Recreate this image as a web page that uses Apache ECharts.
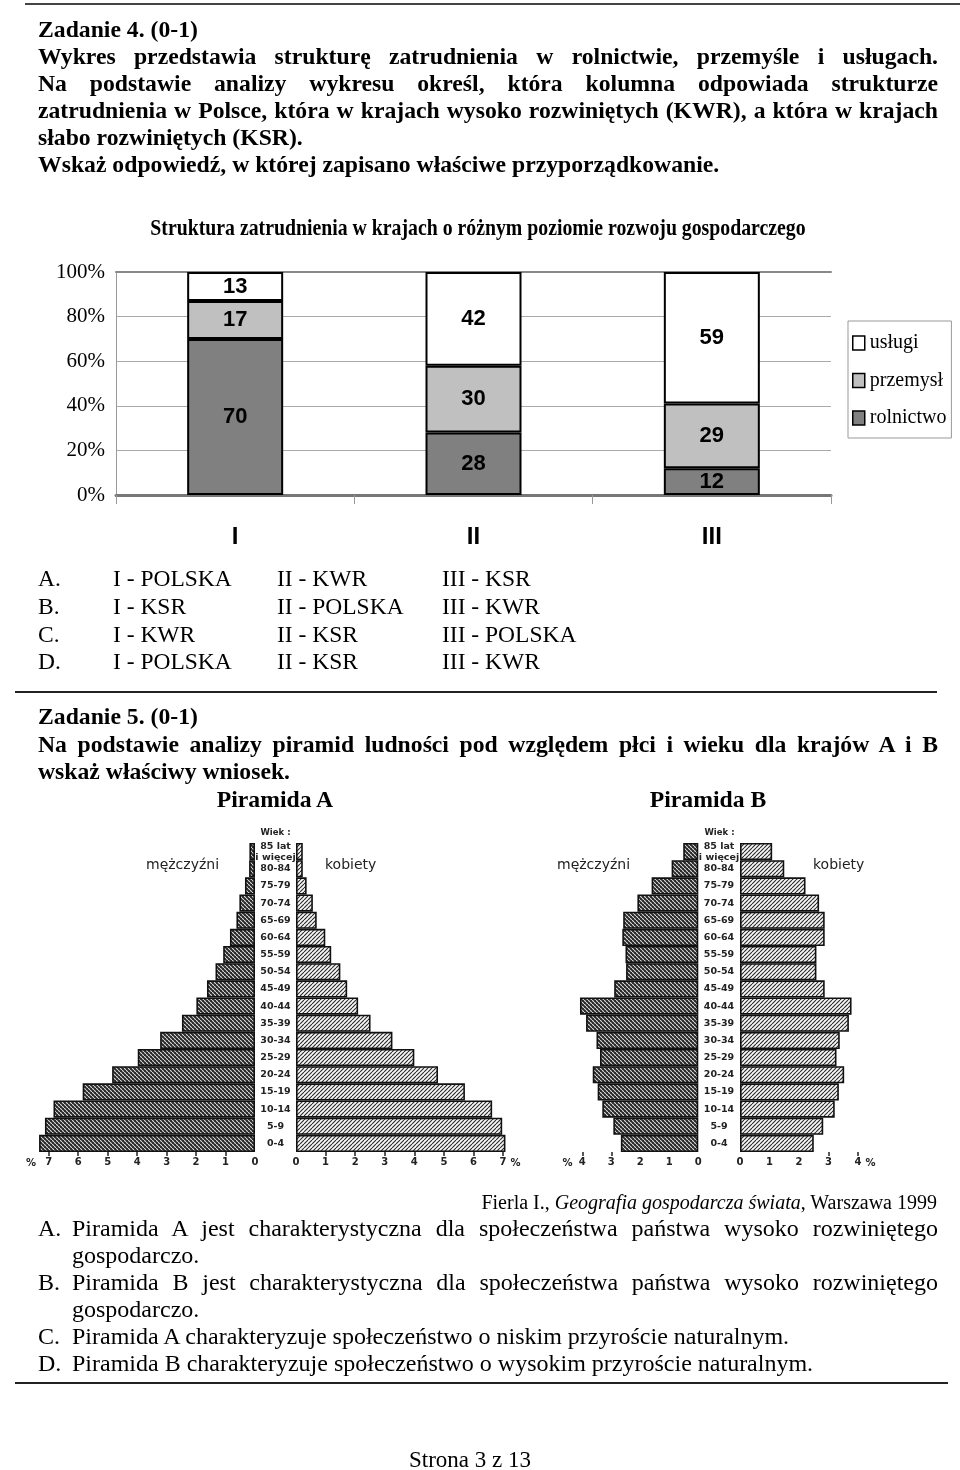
<!DOCTYPE html>
<html><head><meta charset="utf-8">
<script src="https://cdn.jsdelivr.net/npm/echarts@6/dist/echarts.min.js"></script>
<style>
html,body{margin:0;padding:0;background:#fff;}
#page{position:relative;width:960px;height:1470px;overflow:hidden;background:#fff;}
#chart{position:absolute;left:0;top:0;width:960px;height:1470px;}
.t{position:absolute;font-family:'Liberation Serif','Times New Roman',serif;font-size:23.5px;line-height:27px;white-space:nowrap;color:#000;z-index:2;}
.b{font-weight:bold;font-size:23.7px;}
.r{font-size:24px;}
.j{text-align:justify;text-align-last:justify;white-space:normal;}
.rule{position:absolute;height:2px;background:#222;z-index:2;}
</style></head>
<body><div id="page">
<div id="chart"></div>
<div class="rule" style="left:25px;top:3px;width:935px;background:#444;"></div>
<div class="t b" style="left:38px;top:16px;">Zadanie 4. (0-1)</div>
<div class="t b j" style="left:38px;top:43px;width:900px;">Wykres przedstawia strukturę zatrudnienia w rolnictwie, przemyśle i usługach.</div>
<div class="t b j" style="left:38px;top:70px;width:900px;">Na podstawie analizy wykresu określ, która kolumna odpowiada strukturze</div>
<div class="t b j" style="left:38px;top:97px;width:900px;">zatrudnienia w Polsce, która w krajach wysoko rozwiniętych (KWR), a która w krajach</div>
<div class="t b" style="left:38px;top:124px;">słabo rozwiniętych (KSR).</div>
<div class="t b" style="left:38px;top:151px;">Wskaż odpowiedź, w której zapisano właściwe przyporządkowanie.</div>

<div class="t" style="left:38px;top:565px;">A.</div><div class="t" style="left:113px;top:565px;">I - POLSKA</div><div class="t" style="left:277px;top:565px;">II - KWR</div><div class="t" style="left:442px;top:565px;">III - KSR</div>
<div class="t" style="left:38px;top:593px;">B.</div><div class="t" style="left:113px;top:593px;">I - KSR</div><div class="t" style="left:277px;top:593px;">II - POLSKA</div><div class="t" style="left:442px;top:593px;">III - KWR</div>
<div class="t" style="left:38px;top:621px;">C.</div><div class="t" style="left:113px;top:621px;">I - KWR</div><div class="t" style="left:277px;top:621px;">II - KSR</div><div class="t" style="left:442px;top:621px;">III - POLSKA</div>
<div class="t" style="left:38px;top:648px;">D.</div><div class="t" style="left:113px;top:648px;">I - POLSKA</div><div class="t" style="left:277px;top:648px;">II - KSR</div><div class="t" style="left:442px;top:648px;">III - KWR</div>

<div class="rule" style="left:15px;top:691px;width:922px;"></div>
<div class="t b" style="left:38px;top:703px;">Zadanie 5. (0-1)</div>
<div class="t b j" style="left:38px;top:731px;width:900px;">Na podstawie analizy piramid ludności pod względem płci i wieku dla krajów A i B</div>
<div class="t b" style="left:38px;top:758px;">wskaż właściwy wniosek.</div>
<div class="t b" style="left:175px;top:786px;width:200px;text-align:center;">Piramida A</div>
<div class="t b" style="left:608px;top:786px;width:200px;text-align:center;">Piramida B</div>

<div class="t" style="right:23px;top:1189px;font-size:20px;">Fierla I., <i>Geografia gospodarcza świata</i>, Warszawa 1999</div>
<div class="t r" style="left:38px;top:1215px;">A.</div>
<div class="t r j" style="left:72px;top:1215px;width:866px;">Piramida A jest charakterystyczna dla społeczeństwa państwa wysoko rozwiniętego</div>
<div class="t r" style="left:72px;top:1242px;">gospodarczo.</div>
<div class="t r" style="left:38px;top:1269px;">B.</div>
<div class="t r j" style="left:72px;top:1269px;width:866px;">Piramida B jest charakterystyczna dla społeczeństwa państwa wysoko rozwiniętego</div>
<div class="t r" style="left:72px;top:1296px;">gospodarczo.</div>
<div class="t r" style="left:38px;top:1323px;">C.</div>
<div class="t r" style="left:72px;top:1323px;">Piramida A charakteryzuje społeczeństwo o niskim przyroście naturalnym.</div>
<div class="t r" style="left:38px;top:1350px;">D.</div>
<div class="t r" style="left:72px;top:1350px;">Piramida B charakteryzuje społeczeństwo o wysokim przyroście naturalnym.</div>
<div class="rule" style="left:15px;top:1382px;width:933px;"></div>
<div class="t" style="left:370px;top:1446px;width:200px;text-align:center;font-size:23px;">Strona 3 z 13</div>
</div>
<script>
// keep justified lines on one line
document.querySelectorAll('.j').forEach(el => {
  let ls = 0;
  while (el.offsetHeight > 30 && ls > -2) { ls -= 0.1; el.style.letterSpacing = ls.toFixed(2) + 'px'; }
});

// ---- Bar chart data ----
const columns = ['I', 'II', 'III'];
const rolnictwo = [70, 28, 12];
const przemysl = [17, 30, 29];
const uslugi = [13, 42, 59];
const pctTicks = [0, 20, 40, 60, 80, 100];
const chartTitle = 'Struktura zatrudnienia w krajach o różnym poziomie rozwoju gospodarczego';

// ---- Pyramid data (bottom to top) ----
const ageGroups = ['0-4','5-9','10-14','15-19','20-24','25-29','30-34','35-39','40-44','45-49','50-54','55-59','60-64','65-69','70-74','75-79','80-84','85 lat\ni więcej'];
const menA   = [7.33, 7.13, 6.84, 5.85, 4.85, 3.98, 3.22, 2.48, 1.99, 1.63, 1.34, 1.08, 0.85, 0.63, 0.53, 0.34, 0.2, 0.19];
const womenA = [7.08, 6.97, 6.63, 5.71, 4.8, 4.0, 3.26, 2.52, 2.1, 1.73, 1.5, 1.19, 0.99, 0.7, 0.57, 0.36, 0.23, 0.23];
const menB   = [2.67, 2.93, 3.31, 3.47, 3.64, 3.39, 3.51, 3.87, 4.08, 2.9, 2.49, 2.51, 2.62, 2.59, 2.1, 1.61, 0.92, 0.52];
const womenB = [2.5, 2.82, 3.21, 3.35, 3.53, 3.27, 3.38, 3.69, 3.78, 2.87, 2.59, 2.59, 2.87, 2.87, 2.68, 2.22, 1.5, 1.09];
const ticksA = [0, 1, 2, 3, 4, 5, 6, 7];
const ticksB = [0, 1, 2, 3, 4];

function makeMalePattern() {
  const s = 4;
  const c = document.createElement('canvas');
  c.width = s; c.height = s;
  const ctx = c.getContext('2d');
  ctx.fillStyle = '#2a2a2a'; ctx.fillRect(0, 0, s, s);
  ctx.strokeStyle = '#d8d8d8'; ctx.lineWidth = 1.2;
  ctx.beginPath();
  for (let k = -s; k <= s; k += s) { ctx.moveTo(k, 0); ctx.lineTo(k + s, s); }
  ctx.stroke();
  ctx.strokeStyle = '#2a2a2a'; ctx.lineWidth = 0.7;
  ctx.beginPath();
  for (let k = -s; k <= s; k += s) { ctx.moveTo(k, s); ctx.lineTo(k + s, 0); }
  ctx.stroke();
  return { image: c, repeat: 'repeat' };
}
function makeFemalePattern() {
  const s = 4;
  const c = document.createElement('canvas');
  c.width = s; c.height = s;
  const ctx = c.getContext('2d');
  ctx.fillStyle = '#f6f6f6'; ctx.fillRect(0, 0, s, s);
  ctx.strokeStyle = '#2a2a2a'; ctx.lineWidth = 1.1;
  ctx.beginPath();
  for (let k = -s; k <= s; k += s) { ctx.moveTo(k, s); ctx.lineTo(k + s, 0); }
  ctx.stroke();
  return { image: c, repeat: 'repeat' };
}
const malePat = makeMalePattern();
const femalePat = makeFemalePattern();

const pyrFont = 'DejaVu Sans';
const gridTop = 843, gridH = 309;

function valAxis(gridIndex, max, inverse, labels, tickVals, nameGap) {
  return {
    type: 'value', gridIndex, min: 0, max, interval: 1, inverse,
    axisLine: { show: false }, splitLine: { show: false },
    axisTick: { show: true, length: 4, customValues: tickVals, lineStyle: { color: '#222', width: 1.5 } },
    axisLabel: { margin: 5, customValues: labels, fontFamily: pyrFont, fontSize: 10, fontWeight: 'bold', color: '#222' },
    name: '%', nameLocation: 'end', nameGap,
    nameTextStyle: { fontFamily: pyrFont, fontSize: 10, fontWeight: 'bold', color: '#222',
      verticalAlign: 'top', padding: [6, 0, 0, 0] }
  };
}
function catAxis(gridIndex, show, margin) {
  return {
    type: 'category', gridIndex, data: ageGroups, show,
    axisLine: { show: false }, axisTick: { show: false },
    axisLabel: { margin, align: 'center', fontFamily: pyrFont, fontSize: 9.5, fontWeight: 'bold',
      color: '#222', lineHeight: 11 },
    name: show ? 'Wiek :' : '', nameLocation: 'end', nameGap: 6,
    nameTextStyle: { fontFamily: pyrFont, fontSize: 8.5, fontWeight: 'bold', color: '#222',
      align: 'center', padding: [0, 41, 0, 0] }
  };
}
function pyrSeries(name, data, xi, yi, pat) {
  return {
    name, type: 'bar', data, xAxisIndex: xi, yAxisIndex: yi,
    barCategoryGap: 0, barWidth: '100%',
    itemStyle: { color: pat, borderColor: '#111', borderWidth: 1.6 },
    silent: true
  };
}
const barLabel = { show: true, position: 'inside', fontFamily: 'Liberation Sans', fontWeight: 'bold', fontSize: 22, color: '#000' };
const pyrTitle = (text, left) => ({ text, left, top: 858, padding: 0,
  textStyle: { fontFamily: pyrFont, fontSize: 14, fontWeight: 'normal', color: '#222' } });

const chart = echarts.init(document.getElementById('chart'), null, { renderer: 'canvas' });
const serif = 'Liberation Serif';
chart.setOption({
  animation: false,
  title: [
    pyrTitle('mężczyźni', 146), pyrTitle('kobiety', 325),
    pyrTitle('mężczyźni', 557), pyrTitle('kobiety', 813)
  ],
  graphic: [{
    type: 'text', x: 478, y: 229, scaleX: 0.86, silent: true,
    style: { text: chartTitle, font: 'bold 23px "Liberation Serif"', fill: '#000',
      align: 'center', verticalAlign: 'middle' }
  }],
  legend: {
    data: ['usługi', 'przemysł', 'rolnictwo'],
    orient: 'vertical', left: 848, top: 321, width: 104,
    padding: [12, 5, 10, 4], itemGap: 17.5, itemWidth: 12, itemHeight: 14, icon: 'rect',
    backgroundColor: '#fff', borderColor: '#999', borderWidth: 1,
    textStyle: { fontFamily: serif, fontSize: 20, color: '#000' },
    itemStyle: { borderColor: '#000', borderWidth: 1.5 },
    selectedMode: false
  },
  grid: [
    { left: 116, top: 272, width: 715, height: 223 },
    { left: 37, top: gridTop, width: 218, height: gridH },
    { left: 296, top: gridTop, width: 213, height: gridH },
    { left: 576.5, top: gridTop, width: 121.8, height: gridH },
    { left: 740, top: gridTop, width: 121, height: gridH }
  ],
  xAxis: [
    { type: 'category', gridIndex: 0, data: columns,
      axisLine: { lineStyle: { color: '#777', width: 3 } },
      axisTick: { show: true, length: 9, lineStyle: { color: '#999', width: 1 } },
      axisLabel: { margin: 30, fontFamily: 'Liberation Sans', fontWeight: 'bold', fontSize: 24, color: '#000' } },
    { type: 'category', gridIndex: 0, data: columns, position: 'top',
      axisLine: { lineStyle: { color: '#888', width: 2 } }, axisTick: { show: false }, axisLabel: { show: false } },
    valAxis(1, 7.4, true, ticksA, ticksA.slice(1), 1),
    valAxis(2, 7.2, false, ticksA, ticksA.slice(1), 0),
    valAxis(3, 4.2, true, ticksB, ticksB.slice(3), 4),
    valAxis(4, 4.1, false, ticksB, ticksB.slice(3), 2)
  ],
  yAxis: [
    { type: 'value', gridIndex: 0, min: pctTicks[0], max: pctTicks[pctTicks.length - 1], interval: 20,
      axisLine: { show: true, lineStyle: { color: '#999', width: 1 } },
      axisTick: { show: false },
      splitLine: { lineStyle: { color: '#aaa', width: 1 } },
      axisLabel: { margin: 11, fontFamily: serif, fontSize: 21, color: '#000', formatter: '{value}%' } },
    catAxis(1, false, 0),
    catAxis(2, true, 20.5),
    catAxis(3, false, 0),
    catAxis(4, true, 21)
  ],
  series: [
    { name: 'rolnictwo', type: 'bar', stack: 's', data: rolnictwo, barWidth: 96,
      itemStyle: { color: '#808080', borderColor: '#000', borderWidth: 2 }, label: barLabel },
    { name: 'przemysł', type: 'bar', stack: 's', data: przemysl, barWidth: 96,
      itemStyle: { color: '#c0c0c0', borderColor: '#000', borderWidth: 2 }, label: barLabel },
    { name: 'usługi', type: 'bar', stack: 's', data: uslugi, barWidth: 96,
      itemStyle: { color: '#ffffff', borderColor: '#000', borderWidth: 2 }, label: barLabel },
    pyrSeries('mężczyźni A', menA, 2, 1, malePat),
    pyrSeries('kobiety A', womenA, 3, 2, femalePat),
    pyrSeries('mężczyźni B', menB, 4, 3, malePat),
    pyrSeries('kobiety B', womenB, 5, 4, femalePat)
  ]
});
</script>
</body></html>
